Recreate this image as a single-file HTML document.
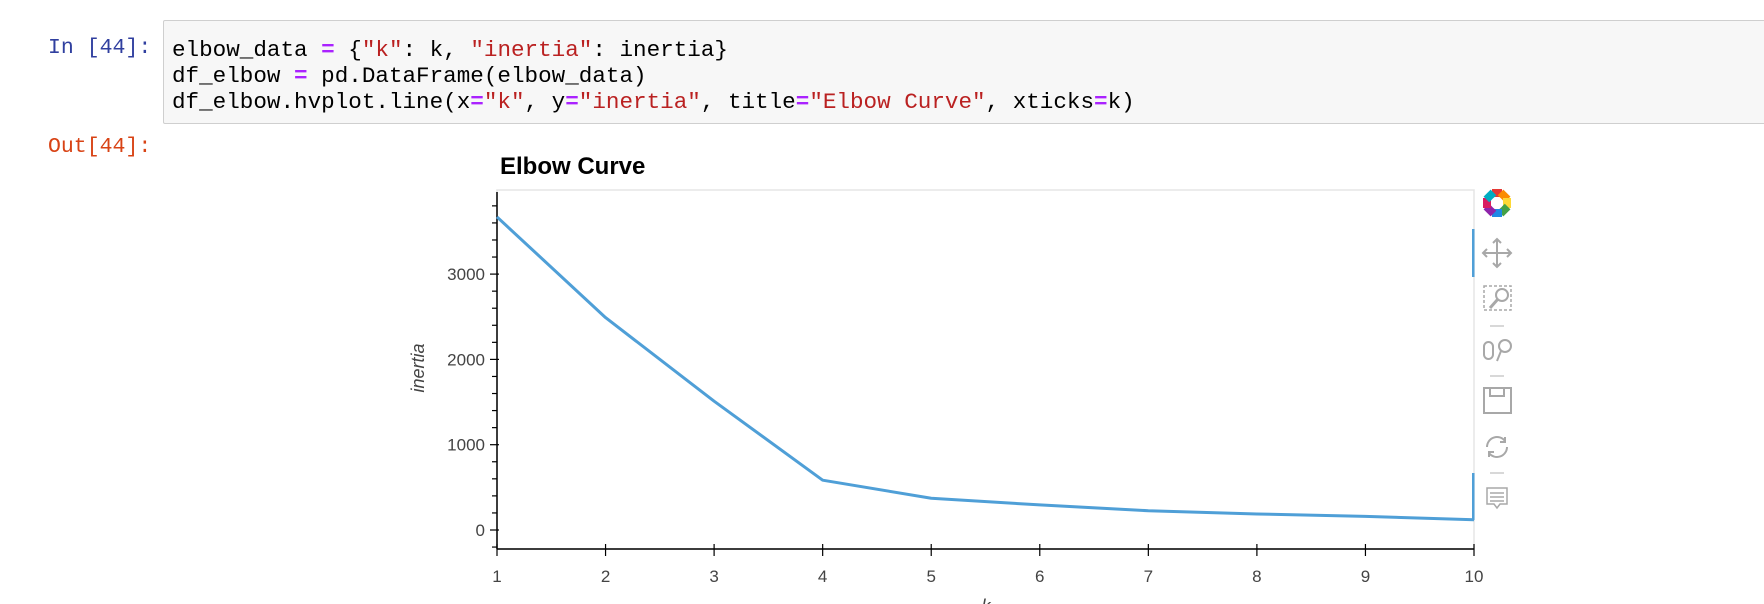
<!DOCTYPE html>
<html><head><meta charset="utf-8"><style>
body{margin:0;width:1764px;height:604px;background:#fff;overflow:hidden;position:relative;font-family:"Liberation Sans",sans-serif}
.prompt{position:absolute;font-family:"Liberation Mono",monospace;font-size:21.5px}
#code{position:absolute;left:163px;top:20px;width:1620px;height:104px;background:#f7f7f7;border:1px solid #cfcfcf;border-radius:2px;box-sizing:border-box;font-family:"Liberation Mono",monospace;font-size:22.6px;line-height:26px;padding:16px 0 0 8px;white-space:pre;color:#000}
.s{color:#ba2121}.o{color:#aa22ff;font-weight:bold}
</style></head><body>
<div class="prompt" style="left:48px;top:36px;color:#303F9F">In [44]:</div>
<div id="code">elbow_data <span class="o">=</span> {<span class="s">"k"</span>: k, <span class="s">"inertia"</span>: inertia}
df_elbow <span class="o">=</span> pd.DataFrame(elbow_data)
df_elbow.hvplot.line(x<span class="o">=</span><span class="s">"k"</span>, y<span class="o">=</span><span class="s">"inertia"</span>, title<span class="o">=</span><span class="s">"Elbow Curve"</span>, xticks<span class="o">=</span>k)</div>
<div class="prompt" style="left:48px;top:135px;color:#D84315">Out[44]:</div>
<svg id="chart" width="1764" height="604" style="position:absolute;left:0;top:0" font-family="Liberation Sans, sans-serif"></svg>
<script>
const kValues=[1,2,3,4,5,6,7,8,9,10];
const inertia=[3670,2490,1510,584,372,294,226,188,160,120];
const yTicks=[0,1000,2000,3000];
const NS="http://www.w3.org/2000/svg";
const svg=document.getElementById('chart');
const X0=497,X1=1474,YZ=530,PX=85.3/1000;
const xs=k=>X0+(k-1)*(X1-X0)/9;
const ys=v=>YZ-v*PX;
function mk(t,a,p){const e=document.createElementNS(NS,t);for(const k in a)e.setAttribute(k,a[k]);(p||svg).appendChild(e);return e;}
let e;
e=mk('text',{x:500,y:174,'font-size':24,'font-weight':'bold',fill:'#000'});e.textContent='Elbow Curve';


e=mk('rect',{x:X0,y:190,width:X1-X0,height:359,fill:'none',stroke:'#e5e5e5','stroke-width':1.5});


// y axis
e=mk('line',{x1:X0,y1:192,x2:X0,y2:549,stroke:'#000','stroke-width':1.5});


for(let v=-200;v<=3800;v+=200){
  const major=v%1000===0;
  e=mk('line',{x1:X0-(major?7:5),x2:X0+(major?2:0),y1:ys(v),y2:ys(v),stroke:'#000','stroke-width':1.2});
  
  
}
yTicks.forEach(v=>{
  const t=mk('text',{x:X0-12,y:ys(v)+6,'font-size':17,'text-anchor':'end',fill:'#444'});t.textContent=v;
  
  
});
e=mk('text',{transform:'translate(424,368) rotate(-90)','font-size':18,'font-style':'italic','text-anchor':'middle',fill:'#444'});e.textContent='inertia';


// x axis
e=mk('line',{x1:X0,y1:549,x2:X1,y2:549,stroke:'#000','stroke-width':1.5});


kValues.forEach(k=>{
  e=mk('line',{x1:xs(k),x2:xs(k),y1:544,y2:556,stroke:'#000','stroke-width':1.2});
  
  
  const t=mk('text',{x:xs(k),y:582,'font-size':17,'text-anchor':'middle',fill:'#444'});t.textContent=k;
  
  
});
e=mk('text',{x:986,y:612,'font-size':18,'font-style':'italic','text-anchor':'middle',fill:'#444'});e.textContent='k';


// line
e=mk('polyline',{points:kValues.map((k,i)=>xs(k)+','+ys(inertia[i])).join(' '),fill:'none',stroke:'#4f9fd7','stroke-width':3,'stroke-linejoin':'round'});


// toolbar
const tb=mk('g',{});


mk('rect',{x:1472,y:229,width:2.5,height:48,fill:'#4f9fd7'},tb);
mk('rect',{x:1472,y:473,width:2.5,height:47,fill:'#4f9fd7'},tb);
const cols=['#e53935','#fb8c00','#fdd835','#43a047','#1e88e5','#8e24aa','#d81b60','#00acc1'];
const logo=mk('g',{},tb);


cols.forEach((c,i)=>{mk('rect',{x:-5,y:-14,width:10,height:8,fill:c,transform:`translate(1497,203) rotate(${i*45})`},logo);});
mk('circle',{cx:1497,cy:203,r:6,fill:'#fff'},logo);
const G='#a8a8a8';
function icon(name,y,draw){const g=mk('g',{stroke:G,fill:'none','stroke-width':2},tb);draw(g,y);}
icon('pan-tool',253,(g,y)=>{mk('path',{d:`M1483 ${y}h28M1497 ${y-14}v28M1487 ${y-4}l-4 4 4 4M1507 ${y-4}l4 4-4 4M1493 ${y-10}l4-4 4 4M1493 ${y+10}l4 4 4-4`},g);});
icon('box-zoom-tool',298,(g,y)=>{mk('rect',{x:1484,y:y-12,width:27,height:24,'stroke-dasharray':'3 2','stroke-width':1.5},g);mk('circle',{cx:1502,cy:y-3,r:6},g);mk('path',{d:`M1498 ${y+1}l-8 9`,'stroke-width':3},g);});
mk('path',{d:'M1490 326h14M1490 376h14M1490 473h14',stroke:'#ccc','stroke-width':1.5},tb);
icon('wheel-zoom-tool',350,(g,y)=>{mk('rect',{x:1484,y:y-8,width:9,height:17,rx:4.5},g);mk('circle',{cx:1505,cy:y-4,r:6},g);mk('path',{d:`M1501 ${y+1}l-4 10`},g);});
icon('save-tool',400,(g,y)=>{mk('rect',{x:1484,y:y-12,width:27,height:25},g);mk('path',{d:`M1490 ${y-12}v8h14v-8`},g);});
icon('reset-tool',447,(g,y)=>{mk('path',{d:`M1487 ${y}a10 10 0 0 1 18-6M1507 ${y}a10 10 0 0 1-18 6M1505 ${y-10}v5h-5M1489 ${y+10}v-5h5`},g);});
icon('hover-tool',498,(g,y)=>{mk('path',{d:`M1487 ${y-10}h20v16h-7l-3 4-3-4h-7zM1490 ${y-5}h14M1490 ${y-1}h14M1490 ${y+3}h14`,'stroke-width':1.5},g);});
</script>
</body></html>
